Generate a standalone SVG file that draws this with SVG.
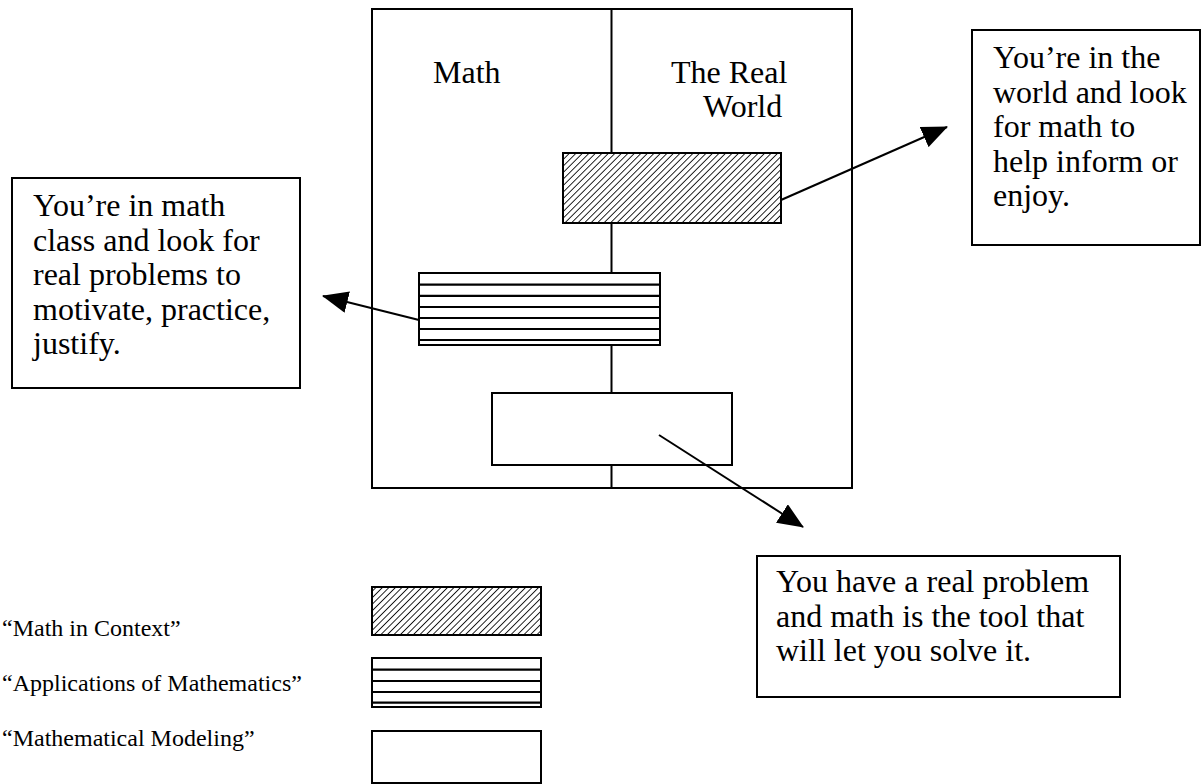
<svg xmlns="http://www.w3.org/2000/svg" width="1201" height="784" viewBox="0 0 1201 784">
<style>
.t{font-family:"Liberation Serif","Times New Roman",serif;font-size:32px;fill:#000}
.lg{font-family:"Liberation Serif","Times New Roman",serif;font-size:24px;fill:#000}
.box{fill:#fff;stroke:#000;stroke-width:2}
.ln{stroke:#000;stroke-width:2;fill:none}
.st{stroke:#000;stroke-width:2.2}
</style>
<defs>
<pattern id="hatch" width="4.6" height="4.6" patternUnits="userSpaceOnUse" patternTransform="rotate(45)">
<rect width="4.6" height="4.6" fill="#fff"/>
<line x1="0" y1="0" x2="0" y2="4.6" stroke="#000" stroke-width="1.7"/>
</pattern>
<marker id="ahb" markerWidth="26" markerHeight="22" refX="25" refY="11" orient="auto" markerUnits="userSpaceOnUse" viewBox="0 0 26 22">
<path d="M0,0 L26,11 L0,22 z" fill="#000"/>
</marker>
</defs>

<g id="frame">
<rect x="372" y="9" width="480" height="479" class="box"/>
<line x1="611.5" y1="9" x2="611.5" y2="488" class="ln"/>
<text class="t" x="433" y="83">Math</text>
<text class="t" x="671" y="83">The Real</text>
<text class="t" x="703" y="117">World</text>
</g>

<g id="math-in-context">
<rect x="563" y="153" width="218" height="70" fill="url(#hatch)" stroke="#000" stroke-width="2"/>
</g>

<g id="applications">
<rect x="419" y="273" width="241" height="72" class="box"/>
<line class="st" x1="419" y1="284.7" x2="660" y2="284.7"/>
<line class="st" x1="419" y1="295.8" x2="660" y2="295.8"/>
<line class="st" x1="419" y1="307" x2="660" y2="307"/>
<line class="st" x1="419" y1="318" x2="660" y2="318"/>
<line class="st" x1="419" y1="329" x2="660" y2="329"/>
<line class="st" x1="419" y1="340" x2="660" y2="340"/>
</g>

<g id="modeling">
<rect x="492" y="393" width="240" height="72" class="box"/>
</g>

<g id="note-world">
<rect x="972" y="30" width="228" height="215" class="box"/>
<text class="t" x="993" y="68">You’re in the</text>
<text class="t" x="993" y="102.5">world and look</text>
<text class="t" x="993" y="137">for math to</text>
<text class="t" x="993" y="171.5">help inform or</text>
<text class="t" x="993" y="206">enjoy.</text>
</g>

<g id="note-class">
<rect x="12" y="178" width="288" height="210" class="box"/>
<text class="t" x="33" y="216">You’re in math</text>
<text class="t" x="33" y="250.5">class and look for</text>
<text class="t" x="33" y="285">real problems to</text>
<text class="t" x="33" y="319.5">motivate, practice,</text>
<text class="t" x="33" y="354">justify.</text>
</g>

<g id="note-problem">
<rect x="757" y="556" width="363" height="141" class="box"/>
<text class="t" x="776" y="592">You have a real problem</text>
<text class="t" x="776" y="626.5">and math is the tool that</text>
<text class="t" x="776" y="661">will let you solve it.</text>
</g>

<g id="connectors">
<line x1="781" y1="200" x2="947" y2="127" class="ln" marker-end="url(#ahb)"/>
<line x1="419" y1="320" x2="323" y2="296" class="ln" marker-end="url(#ahb)"/>
<line x1="659" y1="435" x2="803" y2="527" class="ln" marker-end="url(#ahb)"/>
</g>

<g id="legend">
<text class="lg" x="2" y="636">“Math in Context”</text>
<text class="lg" x="2" y="691">“Applications of Mathematics”</text>
<text class="lg" x="2" y="746">“Mathematical Modeling”</text>
<rect x="372" y="587" width="169" height="48" fill="url(#hatch)" stroke="#000" stroke-width="2"/>
<rect x="372" y="658" width="169" height="49" class="box"/>
<line class="st" x1="372" y1="669.7" x2="541" y2="669.7"/>
<line class="st" x1="372" y1="681" x2="541" y2="681"/>
<line class="st" x1="372" y1="692" x2="541" y2="692"/>
<line class="st" x1="372" y1="702.7" x2="541" y2="702.7"/>
<rect x="372" y="731" width="169" height="52" class="box"/>
</g>
</svg>
